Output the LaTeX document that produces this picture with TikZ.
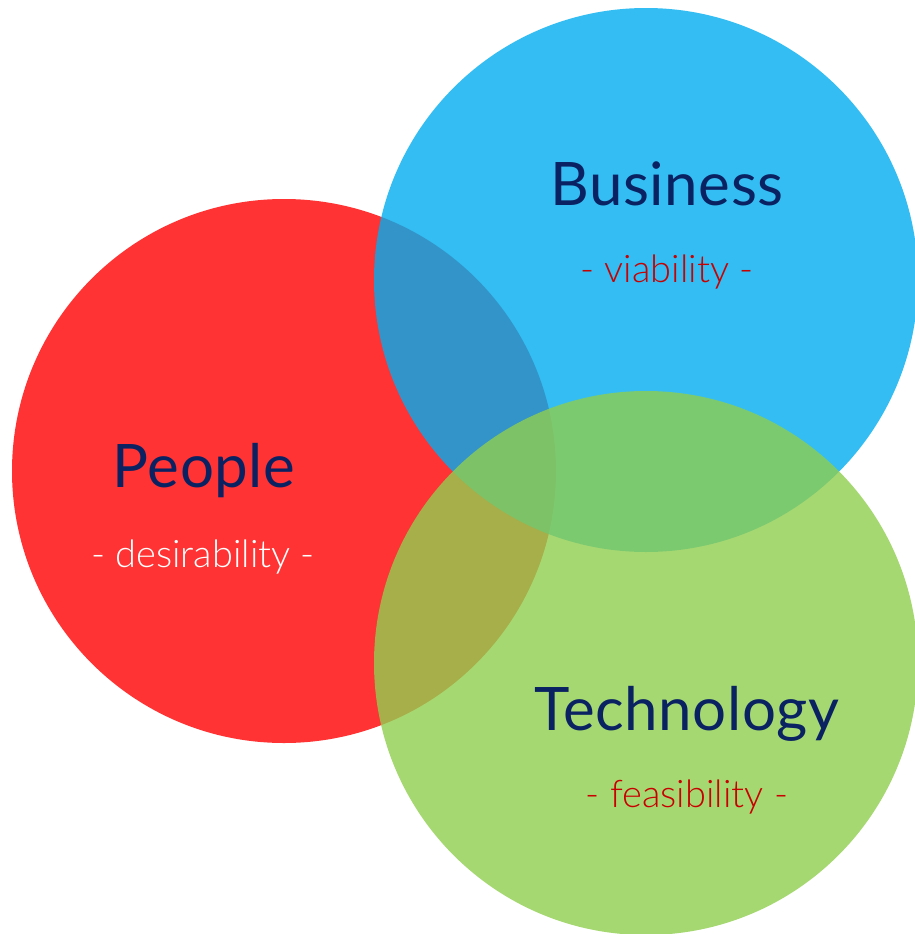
\documentclass[tikz,border=0pt]{standalone}
\usepackage{fontspec}
\setmainfont{Lato}
\newfontfamily\titlefont[LetterSpace=1.0]{Lato}
\newfontfamily\lightfont{Lato Light}
\definecolor{redc}{RGB}{255,51,51}
\definecolor{bluec}{RGB}{0,173,239}
\definecolor{greenc}{RGB}{144,206,79}
\definecolor{navy}{RGB}{10,34,98}
\definecolor{subred}{RGB}{200,0,0}
\tikzset{
  title/.style={anchor=base, text=navy, font=\titlefont\fontsize{60}{62}\selectfont, inner sep=0pt},
  sub/.style={anchor=base, font=\lightfont\fontsize{38}{40}\selectfont, inner sep=0pt},
}
\begin{document}
\begin{tikzpicture}[x=1pt,y=-1pt]
\useasboundingbox (0,0) rectangle (915,934);
\clip (0,0) rectangle (915,934);
\fill[redc] (284,471) circle[radius=272];
\fill[bluec, fill opacity=0.8] (646,280) circle[radius=272];
\fill[greenc, fill opacity=0.8] (646,663) circle[radius=272];
\node[title] (bus) at (667,205) {Business};
\node[sub, text=subred] (busv) at (667,282) {- viability -};
\node[title] (peo) at (204,487) {People};
\node[sub, text=white] (peov) at (203,567) {- desirability -};
\node[title] (tech) at (687,730) {Technology};
\node[sub, text=subred] (techv) at (687,807) {- feasibility -};
\end{tikzpicture}
\end{document}
